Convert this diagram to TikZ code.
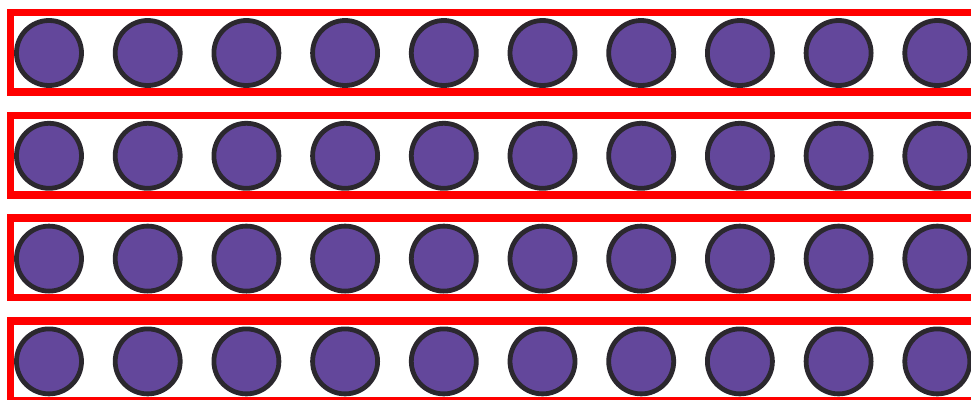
\documentclass[tikz,border=0pt]{standalone}
\definecolor{framered}{RGB}{255,0,0}
\definecolor{dotpurple}{RGB}{99,71,155}
\definecolor{dotedge}{RGB}{43,40,46}
\tikzset{
  rowframe/.style={draw=framered, line width=7.5pt},
  dot/.style={circle, draw=dotedge, fill=dotpurple, line width=4.8pt, minimum size=65pt, inner sep=0pt}
}
\begin{document}
\begin{tikzpicture}[x=1pt,y=-1pt]
\useasboundingbox (0,0) rectangle (971,399);
\clip (0,0) rectangle (971,399);
\foreach \r in {0,1,2,3}{
  \pgfmathsetmacro{\top}{12.5+102.8*\r}
  \pgfmathsetmacro{\bot}{\top+79.5}
  \draw[rowframe] (10.5,\top) rectangle (985,\bot);
  \foreach \c in {0,...,9}{
    \pgfmathsetmacro{\cx}{49+98.7*\c}
    \node[dot] (d\r-\c) at (\cx,\top+40.5) {};
  }
}
\end{tikzpicture}
\end{document}
